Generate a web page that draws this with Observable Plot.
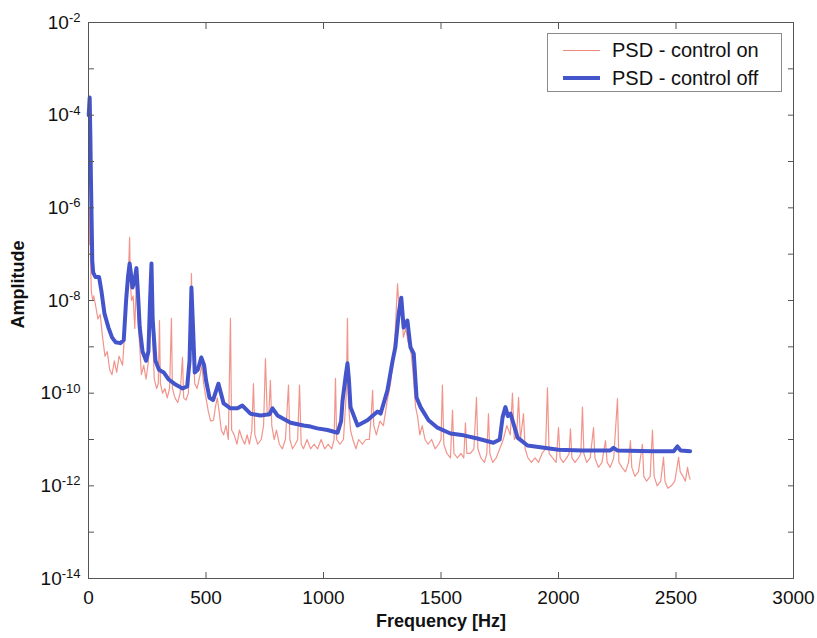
<!DOCTYPE html>
<html>
<head>
<meta charset="utf-8">
<script src="https://cdn.jsdelivr.net/npm/d3@7"></script>
<script src="https://cdn.jsdelivr.net/npm/@observablehq/plot@0.6"></script>
<style>
  body { margin: 0; background: #fff; }
  #wrap { position: relative; width: 817px; height: 638px; }
  #legend { position: absolute; left: 547px; top: 33px; width: 235px; height: 59px;
    border: 1px solid #8a8a8a; background: #fff; box-sizing: border-box;
    font-family: "Liberation Sans", Arial, sans-serif; font-size: 20px; color: #111; }
  .row { position: absolute; left: 0; height: 26px; display: flex; align-items: center; white-space: nowrap; }
  .sw { display: inline-block; width: 37px; margin-left: 15px; margin-right: 12px; }
</style>
</head>
<body>
<div id="wrap">
  <div id="chart"></div>
  <div id="legend">
    <div class="row" style="top:3px"><span class="sw" style="border-top:1.2px solid #ef8a80"></span><span>PSD - control on</span></div>
    <div class="row" style="top:31px"><span class="sw" style="border-top:4px solid #4455cc"></span><span>PSD - control off</span></div>
  </div>
</div>
<script>
// Axis ticks
const xTicks = [0, 500, 1000, 1500, 2000, 2500, 3000];
const yMajorTicks = [1e-14, 1e-12, 1e-10, 1e-8, 1e-6, 1e-4, 1e-2];
const yAllDecades = [1e-14, 1e-13, 1e-12, 1e-11, 1e-10, 1e-9, 1e-8, 1e-7, 1e-6, 1e-5, 1e-4, 1e-3, 1e-2];

// PSD - control off  [frequency Hz, amplitude]
const controlOff = [
  [1,1e-4],[5,2.4e-4],[8,3.2e-5],[10,5.5e-6],[13,6.3e-7],[16,7.2e-8],[20,4.0e-8],[30,3.2e-8],
  [45,3.2e-8],[55,1.6e-8],[68,5.2e-9],[85,2.6e-9],[100,1.6e-9],[115,1.26e-9],[135,1.2e-9],[150,1.4e-9],
  [160,1e-8],[168,3.2e-8],[175,6.3e-8],[180,4.0e-8],[187,1.9e-8],[195,2.5e-8],[204,5.0e-8],[210,1.6e-8],
  [218,2.6e-9],[230,7.9e-10],[245,5.0e-10],[255,7.9e-10],[262,1e-8],[268,6.3e-8],[273,4.0e-9],[285,5.0e-10],
  [300,3.2e-10],[320,2.8e-10],[340,2.0e-10],[365,1.6e-10],[385,1.4e-10],[400,1.26e-10],[420,1.4e-10],[430,5.0e-10],
  [438,1.9e-8],[445,2.5e-9],[452,2.8e-10],[465,3.2e-10],[480,5.9e-10],[492,4.0e-10],[500,1.9e-10],[515,7.9e-11],
  [530,7.1e-11],[553,1.6e-10],[575,6.0e-11],[604,4.7e-11],[634,4.7e-11],[655,5.4e-11],[689,3.6e-11],[732,3.3e-11],
  [770,3.5e-11],[783,4.7e-11],[804,3.3e-11],[860,2.3e-11],[915,2.0e-11],[945,1.9e-11],[974,1.74e-11],[1017,1.6e-11],
  [1060,1.4e-11],[1075,2.5e-11],[1081,6.9e-11],[1095,2.5e-10],[1102,4.4e-10],[1108,2.0e-10],[1115,5.0e-11],[1145,2.0e-11],
  [1187,2.6e-11],[1230,4.0e-11],[1243,3.6e-11],[1272,1.15e-10],[1294,5.0e-10],[1306,1.0e-9],[1320,5.2e-9],[1331,1.15e-8],
  [1341,2.6e-9],[1357,3.7e-9],[1370,9.8e-10],[1384,7.1e-10],[1396,8.1e-11],[1413,5.0e-11],[1447,2.6e-11],[1485,1.8e-11],
  [1540,1.35e-11],[1596,1.23e-11],[1655,1.05e-11],[1723,8.5e-12],[1750,1.0e-11],[1762,3.0e-11],[1774,5.0e-11],[1785,3.2e-11],
  [1796,3.6e-11],[1826,1.1e-11],[1868,7.4e-12],[1923,6.8e-12],[2000,6.0e-12],[2100,5.8e-12],[2220,5.8e-12],[2234,6.6e-12],
  [2250,5.8e-12],[2400,5.6e-12],[2490,5.6e-12],[2506,7.1e-12],[2520,5.8e-12],[2560,5.6e-12]
];

// PSD - control on  [frequency Hz, amplitude]
const controlOn = [
  [2,1.6e-7],[5,1e-6],[8,1e-7],[12,1.6e-8],[18,1e-8],[22,1.26e-8],[30,7.9e-9],[40,4.0e-9],
  [50,5.0e-9],[60,1.6e-9],[70,6.3e-10],[80,7.9e-10],[90,3.2e-10],[100,2.5e-10],[110,5.0e-10],[120,2.8e-10],
  [130,6.3e-10],[145,4.0e-10],[155,2.5e-9],[165,1.6e-8],[170,4.0e-8],[175,2.3e-7],[178,2.5e-8],[183,1e-8],
  [190,1.26e-8],[197,2.5e-9],[204,3.2e-8],[210,5.0e-9],[218,1e-9],[225,2.5e-10],[235,4.0e-10],[245,2.0e-10],
  [255,5.0e-10],[262,6.3e-9],[268,4.0e-8],[273,1.6e-9],[280,2.0e-10],[290,1.26e-10],[297,1.6e-10],[302,3.7e-9],
  [306,1.6e-10],[315,1e-10],[325,1.26e-10],[335,7.9e-11],[345,1.26e-10],[353,4.1e-9],[357,1.26e-10],[368,7.9e-11],
  [380,6.3e-11],[390,1e-10],[400,5.9e-10],[405,7.9e-11],[415,7.1e-11],[425,1e-10],[432,1e-9],[438,3.8e-8],
  [444,1.26e-9],[452,1.6e-10],[462,1.26e-10],[475,2.5e-10],[482,4.0e-10],[490,1.6e-10],[500,7.9e-11],[510,4.0e-11],
  [520,2.5e-11],[532,2.6e-11],[540,5.0e-11],[548,7.9e-11],[556,4.0e-11],[565,1.6e-11],[575,1.26e-11],[585,2.0e-11],
  [595,1e-11],[604,4.1e-9],[609,1.6e-11],[620,1.26e-11],[632,7.9e-12],[642,1.6e-11],[655,1e-11],[665,7.9e-12],
  [675,1.26e-11],[685,7.9e-12],[695,1.6e-11],[702,1.6e-10],[708,1.26e-11],[720,7.9e-12],[735,1e-11],[745,2.0e-11],
  [753,5.6e-10],[760,4.0e-11],[767,3.2e-11],[774,1.9e-10],[780,2.0e-11],[790,1e-11],[800,1.6e-11],[812,7.9e-12],
  [825,6.3e-12],[838,1e-11],[851,1.5e-10],[857,1e-11],[868,6.3e-12],[880,7.9e-12],[890,1e-11],[898,1.5e-10],
  [905,7.9e-12],[915,6.3e-12],[930,1e-11],[945,6.3e-12],[960,7.9e-12],[975,6.3e-12],[990,1e-11],[1005,6.3e-12],
  [1020,7.9e-12],[1035,6.3e-12],[1045,1e-11],[1051,2.1e-10],[1056,1e-11],[1070,7.9e-12],[1085,1e-11],[1097,1e-10],
  [1102,4.1e-9],[1106,6.3e-11],[1115,1.6e-11],[1125,1e-11],[1138,6.3e-12],[1150,1e-11],[1165,7.9e-12],[1180,1e-11],
  [1195,1e-11],[1203,3.2e-11],[1209,1.15e-10],[1214,2.0e-11],[1225,1.26e-11],[1240,2.5e-11],[1255,2.0e-11],[1270,6.3e-11],
  [1285,1.6e-10],[1295,5.0e-10],[1305,2.0e-9],[1315,2.3e-8],[1322,6.3e-9],[1330,1e-8],[1340,1.6e-9],[1350,2.5e-9],
  [1360,1.26e-9],[1370,1e-9],[1380,3.2e-10],[1392,5.0e-11],[1400,3.2e-11],[1410,1.26e-11],[1420,2.0e-11],[1432,1e-11],
  [1445,7.9e-12],[1460,1e-11],[1475,6.3e-12],[1490,7.9e-12],[1500,1e-11],[1506,1.5e-10],[1512,7.9e-12],[1525,5.0e-12],
  [1540,4.0e-12],[1549,4.3e-11],[1555,5.0e-12],[1570,4.0e-12],[1585,5.0e-12],[1597,4.0e-12],[1604,2.3e-11],[1610,5.0e-12],
  [1625,5.0e-12],[1640,6.3e-12],[1651,8.1e-11],[1657,6.3e-12],[1670,4.0e-12],[1685,3.2e-12],[1695,5.0e-12],[1702,3.6e-11],
  [1708,5.0e-12],[1720,3.2e-12],[1735,4.0e-12],[1750,6.3e-12],[1765,1e-11],[1780,2.0e-11],[1795,1.26e-11],[1804,1.0e-10],
  [1812,1e-11],[1822,1.26e-11],[1830,8.1e-11],[1838,1e-11],[1851,3.6e-11],[1858,6.3e-12],[1870,4.0e-12],[1885,3.2e-12],
  [1900,4.0e-12],[1915,3.2e-12],[1930,5.0e-12],[1945,6.3e-12],[1953,1.3e-10],[1960,5.0e-12],[1975,4.0e-12],[1990,3.2e-12],
  [2000,1.8e-11],[2007,4.0e-12],[2020,3.2e-12],[2035,4.0e-12],[2045,5.0e-12],[2051,1.7e-11],[2057,4.0e-12],[2070,3.2e-12],
  [2085,4.0e-12],[2095,5.0e-12],[2102,5.0e-11],[2108,5.0e-12],[2120,3.2e-12],[2135,4.0e-12],[2149,1.8e-11],[2155,4.0e-12],
  [2170,2.5e-12],[2185,3.2e-12],[2200,9.5e-12],[2207,3.2e-12],[2220,2.5e-12],[2235,4.0e-12],[2251,7.6e-11],[2257,3.2e-12],
  [2270,2.5e-12],[2285,2.0e-12],[2298,3.2e-12],[2306,9.5e-12],[2312,2.5e-12],[2325,1.6e-12],[2340,2.0e-12],[2357,7.9e-12],
  [2363,1.6e-12],[2375,1.26e-12],[2390,1.6e-12],[2400,1.6e-11],[2407,1.6e-12],[2420,1e-12],[2435,1.26e-12],[2447,4.1e-12],
  [2453,1.26e-12],[2465,8.9e-13],[2480,1e-12],[2495,1.26e-12],[2511,4.1e-12],[2518,2.0e-12],[2530,1.6e-12],[2540,1.26e-12],
  [2549,2.5e-12],[2556,1.6e-12],[2560,1.4e-12]
];

const axisColor = "#555";

const chart = Plot.plot({
  width: 817,
  height: 638,
  marginLeft: 88,
  marginRight: 24,
  marginTop: 22,
  marginBottom: 60,
  style: { fontFamily: "'Liberation Sans', Arial, sans-serif", fontSize: "19px", color: "#111", background: "#fff", overflow: "visible" },
  x: { domain: [0, 3000] },
  y: { type: "log", domain: [1e-14, 1e-2] },
  marks: [
    Plot.line(controlOn, { x: d => d[0], y: d => d[1], stroke: "#ef8a80", strokeWidth: 1.2, strokeOpacity: 0.9 }),
    Plot.line(controlOff, { x: d => d[0], y: d => d[1], stroke: "#4455cc", strokeWidth: 4, strokeLinejoin: "round" }),
    Plot.frame({ stroke: axisColor }),
    Plot.axisX(xTicks, { anchor: "bottom", tickSize: -6, tickPadding: 18, stroke: axisColor, tickFormat: d => String(d), label: null }),
    Plot.axisX(xTicks, { anchor: "top", tickSize: -6, stroke: axisColor, tickFormat: () => "", label: null }),
    Plot.axisY(yAllDecades, { anchor: "left", tickSize: -6, stroke: axisColor, tickFormat: () => "", label: null }),
    Plot.axisY(yAllDecades, { anchor: "right", tickSize: -6, stroke: axisColor, tickFormat: () => "", label: null }),
    Plot.axisY(yMajorTicks, { anchor: "left", tickSize: 0, tickPadding: 8, tickFormat: d => "10^" + Math.round(Math.log10(d)), label: null }),
    Plot.text(["Frequency [Hz]"], { frameAnchor: "bottom", dy: 48, fontWeight: "bold", fontSize: 18 }),
    Plot.text(["Amplitude"], { frameAnchor: "left", rotate: -90, dx: -70, dy: 28, fontWeight: "bold", fontSize: 18 })
  ]
});

// superscript exponents on y tick labels
const ns = "http://www.w3.org/2000/svg";
chart.querySelectorAll('g[aria-label="y-axis tick label"] text').forEach(t => {
  const s = t.textContent;
  if (!s.includes("^")) return;
  const [base, exp] = s.split("^");
  t.textContent = "";
  const a = document.createElementNS(ns, "tspan"); a.textContent = base;
  const b = document.createElementNS(ns, "tspan"); b.textContent = exp;
  b.setAttribute("dy", "-0.5em"); b.setAttribute("font-size", "13");
  t.append(a, b);
});

document.getElementById("chart").append(chart);
</script>
</body>
</html>
